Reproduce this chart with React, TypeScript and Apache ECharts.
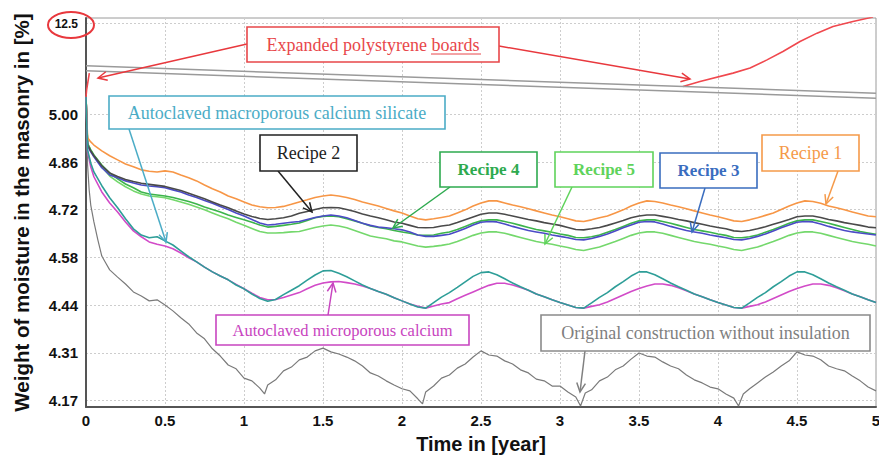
import React, { useEffect, useRef } from 'react';
import * as echarts from 'echarts';

// ---------- data (time in years, moisture weight in %) ----------
const TIME_YEARS = [0, 0.01, 0.03, 0.05, 0.1, 0.15, 0.2, 0.25, 0.3, 0.35, 0.4, 0.45, 0.5, 0.55, 0.6, 0.65, 0.7, 0.75, 0.8, 0.85, 0.9, 0.95,
  1, 1.05, 1.1, 1.15, 1.2, 1.25, 1.3, 1.35, 1.4, 1.45, 1.5, 1.55, 1.6, 1.65, 1.7, 1.75, 1.8, 1.85, 1.9, 1.95,
  2, 2.05, 2.1, 2.15, 2.2, 2.25, 2.3, 2.35, 2.4, 2.45, 2.5, 2.55, 2.6, 2.65, 2.7, 2.75, 2.8, 2.85, 2.9, 2.95,
  3, 3.05, 3.1, 3.15, 3.2, 3.25, 3.3, 3.35, 3.4, 3.45, 3.5, 3.55, 3.6, 3.65, 3.7, 3.75, 3.8, 3.85, 3.9, 3.95,
  4, 4.05, 4.1, 4.15, 4.2, 4.25, 4.3, 4.35, 4.4, 4.45, 4.5, 4.55, 4.6, 4.65, 4.7, 4.75, 4.8, 4.85, 4.9, 4.95, 5];

const RECIPE_1 = [6.45, 4.932, 4.920, 4.911,
  4.894, 4.880, 4.868, 4.856, 4.848, 4.839, 4.835, 4.833, 4.836, 4.833,
  4.824, 4.816, 4.807, 4.795, 4.784, 4.775, 4.763, 4.755,
  4.746, 4.737, 4.732, 4.729, 4.730, 4.733, 4.739, 4.746, 4.752, 4.759,
  4.763, 4.766, 4.763, 4.759, 4.753, 4.746, 4.740, 4.734, 4.727, 4.720,
  4.714, 4.705, 4.697, 4.694, 4.697, 4.701, 4.705, 4.714, 4.723, 4.734,
  4.743, 4.749, 4.749, 4.743, 4.737, 4.732, 4.726, 4.720, 4.714, 4.708,
  4.703, 4.697, 4.691, 4.689, 4.694, 4.700, 4.705, 4.714, 4.723, 4.734,
  4.743, 4.749, 4.747, 4.743, 4.737, 4.732, 4.726, 4.720, 4.714, 4.708,
  4.703, 4.697, 4.691, 4.689, 4.694, 4.700, 4.707, 4.714, 4.724, 4.734,
  4.743, 4.749, 4.747, 4.742, 4.734, 4.729, 4.723, 4.717, 4.711, 4.705,
  4.703];

const RECIPE_2 = [6.45, 4.911, 4.894, 4.880,
  4.851, 4.830, 4.820, 4.811, 4.805, 4.800, 4.797, 4.794, 4.791, 4.785,
  4.779, 4.771, 4.763, 4.755, 4.746, 4.737, 4.729, 4.720,
  4.711, 4.704, 4.698, 4.695, 4.697, 4.700, 4.705, 4.713, 4.718, 4.724,
  4.729, 4.730, 4.729, 4.724, 4.718, 4.711, 4.705, 4.700, 4.694, 4.688,
  4.684, 4.678, 4.672, 4.671, 4.672, 4.676, 4.679, 4.686, 4.694, 4.702,
  4.710, 4.714, 4.714, 4.710, 4.705, 4.700, 4.695, 4.691, 4.686, 4.682,
  4.678, 4.672, 4.666, 4.665, 4.668, 4.672, 4.678, 4.685, 4.692, 4.700,
  4.705, 4.708, 4.708, 4.704, 4.700, 4.695, 4.691, 4.686, 4.681, 4.676,
  4.672, 4.668, 4.662, 4.660, 4.663, 4.668, 4.674, 4.681, 4.688, 4.695,
  4.703, 4.705, 4.705, 4.701, 4.695, 4.691, 4.686, 4.682, 4.678, 4.673,
  4.671];

const RECIPE_3 = [6.45, 4.909, 4.891, 4.877,
  4.845, 4.824, 4.816, 4.807, 4.801, 4.795, 4.792, 4.790, 4.787, 4.781,
  4.775, 4.766, 4.759, 4.750, 4.742, 4.733, 4.724, 4.714,
  4.705, 4.695, 4.685, 4.679, 4.681, 4.684, 4.687, 4.689, 4.695, 4.701,
  4.705, 4.708, 4.705, 4.700, 4.692, 4.684, 4.678, 4.673, 4.671, 4.668,
  4.665, 4.659, 4.650, 4.646, 4.646, 4.649, 4.652, 4.660, 4.669, 4.679,
  4.687, 4.689, 4.688, 4.682, 4.675, 4.669, 4.663, 4.659, 4.655, 4.650,
  4.646, 4.642, 4.637, 4.636, 4.640, 4.646, 4.653, 4.662, 4.671, 4.679,
  4.687, 4.689, 4.688, 4.682, 4.675, 4.669, 4.663, 4.659, 4.655, 4.650,
  4.646, 4.642, 4.637, 4.636, 4.640, 4.646, 4.653, 4.662, 4.671, 4.679,
  4.687, 4.689, 4.688, 4.682, 4.675, 4.669, 4.663, 4.659, 4.656, 4.653,
  4.650];

const RECIPE_4 = [6.45, 4.914, 4.897, 4.882,
  4.853, 4.830, 4.813, 4.798, 4.787, 4.775, 4.769, 4.766, 4.763, 4.759,
  4.753, 4.747, 4.740, 4.731, 4.724, 4.717, 4.708, 4.701,
  4.694, 4.687, 4.679, 4.673, 4.675, 4.678, 4.681, 4.685, 4.692, 4.700,
  4.704, 4.705, 4.703, 4.697, 4.691, 4.684, 4.676, 4.672, 4.668, 4.663,
  4.659, 4.655, 4.650, 4.649, 4.650, 4.655, 4.659, 4.666, 4.675, 4.684,
  4.691, 4.694, 4.694, 4.689, 4.684, 4.678, 4.672, 4.666, 4.662, 4.658,
  4.653, 4.649, 4.643, 4.642, 4.645, 4.650, 4.658, 4.666, 4.675, 4.684,
  4.691, 4.694, 4.694, 4.689, 4.684, 4.678, 4.672, 4.666, 4.662, 4.658,
  4.653, 4.649, 4.643, 4.642, 4.645, 4.650, 4.658, 4.666, 4.675, 4.684,
  4.691, 4.694, 4.694, 4.689, 4.684, 4.678, 4.672, 4.666, 4.660, 4.656,
  4.652];

const RECIPE_5 = [6.45, 4.917, 4.897, 4.880,
  4.848, 4.821, 4.804, 4.790, 4.778, 4.769, 4.763, 4.761, 4.758, 4.752,
  4.746, 4.739, 4.731, 4.723, 4.714, 4.705, 4.697, 4.687,
  4.678, 4.669, 4.660, 4.656, 4.656, 4.657, 4.659, 4.660, 4.666, 4.672,
  4.676, 4.679, 4.676, 4.671, 4.663, 4.655, 4.647, 4.643, 4.639, 4.633,
  4.630, 4.624, 4.618, 4.615, 4.617, 4.620, 4.624, 4.631, 4.640, 4.649,
  4.656, 4.659, 4.659, 4.655, 4.649, 4.643, 4.637, 4.631, 4.627, 4.623,
  4.618, 4.614, 4.608, 4.605, 4.610, 4.615, 4.623, 4.631, 4.640, 4.649,
  4.656, 4.659, 4.659, 4.655, 4.649, 4.643, 4.637, 4.631, 4.627, 4.623,
  4.618, 4.614, 4.608, 4.605, 4.610, 4.615, 4.623, 4.631, 4.640, 4.649,
  4.656, 4.659, 4.659, 4.655, 4.649, 4.643, 4.637, 4.631, 4.627, 4.623,
  4.618];

const MACROPOROUS = [6.45, 4.897, 4.859, 4.833,
  4.793, 4.758, 4.729, 4.697, 4.668, 4.650, 4.642, 4.645, 4.633, 4.621,
  4.604, 4.587, 4.572, 4.557, 4.543, 4.531, 4.520, 4.505,
  4.494, 4.479, 4.466, 4.458, 4.463, 4.477, 4.490, 4.503, 4.519, 4.534,
  4.546, 4.547, 4.539, 4.529, 4.517, 4.505, 4.495, 4.486, 4.478, 4.468,
  4.459, 4.450, 4.441, 4.438, 4.454, 4.470, 4.483, 4.498, 4.514, 4.530,
  4.541, 4.543, 4.535, 4.523, 4.511, 4.500, 4.490, 4.479, 4.471, 4.462,
  4.454, 4.447, 4.440, 4.438, 4.453, 4.469, 4.483, 4.500, 4.515, 4.531,
  4.543, 4.543, 4.535, 4.523, 4.511, 4.500, 4.490, 4.479, 4.471, 4.462,
  4.454, 4.447, 4.440, 4.438, 4.453, 4.469, 4.483, 4.500, 4.515, 4.531,
  4.543, 4.543, 4.535, 4.523, 4.511, 4.500, 4.490, 4.479, 4.471, 4.462,
  4.454];

const MICROPOROUS = [6.45, 4.891, 4.848, 4.819,
  4.775, 4.743, 4.717, 4.688, 4.662, 4.645, 4.630, 4.623, 4.618, 4.610,
  4.598, 4.584, 4.572, 4.557, 4.543, 4.531, 4.520, 4.507,
  4.494, 4.481, 4.469, 4.462, 4.463, 4.469, 4.476, 4.483, 4.494, 4.504,
  4.511, 4.514, 4.515, 4.512, 4.508, 4.502, 4.495, 4.486, 4.478, 4.468,
  4.459, 4.450, 4.443, 4.438, 4.444, 4.450, 4.454, 4.465, 4.475, 4.485,
  4.495, 4.504, 4.510, 4.510, 4.505, 4.498, 4.490, 4.479, 4.471, 4.462,
  4.454, 4.447, 4.440, 4.438, 4.443, 4.448, 4.456, 4.466, 4.476, 4.486,
  4.495, 4.502, 4.508, 4.508, 4.504, 4.497, 4.488, 4.479, 4.471, 4.462,
  4.454, 4.447, 4.440, 4.438, 4.443, 4.448, 4.456, 4.466, 4.476, 4.486,
  4.495, 4.502, 4.508, 4.508, 4.504, 4.497, 4.488, 4.479, 4.471, 4.462,
  4.454];

const ORIGINAL_TIME = [0, 0.01, 0.02, 0.03, 0.05, 0.075, 0.1, 0.125, 0.15,
  0.2, 0.25, 0.3, 0.35, 0.4, 0.45, 0.5, 0.55, 0.6, 0.65, 0.7, 0.75, 0.8, 0.85, 0.9, 0.95, 1, 1.05, 1.1, 1.13,
  1.15, 1.2, 1.25, 1.3, 1.35, 1.4, 1.45, 1.5, 1.55, 1.6, 1.65, 1.7, 1.75, 1.8, 1.85, 1.9, 1.95, 2, 2.05, 2.1, 2.13,
  2.15, 2.2, 2.25, 2.3, 2.35, 2.4, 2.45, 2.5, 2.55, 2.6, 2.65, 2.7, 2.75, 2.8, 2.85, 2.9, 2.95, 3, 3.05, 3.1, 3.13, 3.16,
  3.2, 3.25, 3.3, 3.35, 3.4, 3.45, 3.5, 3.55, 3.6, 3.65, 3.7, 3.75, 3.8, 3.85, 3.9, 3.95, 4, 4.05, 4.1, 4.13, 4.16,
  4.2, 4.25, 4.3, 4.35, 4.4, 4.45, 4.5, 4.55, 4.6, 4.65, 4.7, 4.75, 4.8, 4.85, 4.9, 4.95, 5];

const ORIGINAL = [6.45, 4.853, 4.781, 4.737, 4.688, 4.636, 4.589, 4.569, 4.549,
  4.528, 4.508, 4.485, 4.473, 4.459, 4.462, 4.447, 4.430, 4.410, 4.392, 4.366, 4.349, 4.320, 4.299, 4.273, 4.262, 4.235, 4.227, 4.206, 4.189,
  4.215, 4.230, 4.256, 4.267, 4.288, 4.296, 4.314, 4.322, 4.311, 4.305, 4.296, 4.285, 4.270, 4.250, 4.241, 4.227, 4.215, 4.204, 4.198, 4.175, 4.160,
  4.195, 4.212, 4.235, 4.244, 4.264, 4.276, 4.296, 4.314, 4.302, 4.299, 4.285, 4.276, 4.259, 4.250, 4.232, 4.227, 4.212, 4.212, 4.195, 4.180, 4.154, 4.192,
  4.201, 4.227, 4.238, 4.259, 4.270, 4.290, 4.308, 4.299, 4.296, 4.282, 4.270, 4.262, 4.244, 4.230, 4.221, 4.209, 4.204, 4.189, 4.177, 4.154, 4.189,
  4.204, 4.221, 4.238, 4.253, 4.270, 4.285, 4.311, 4.302, 4.299, 4.288, 4.270, 4.262, 4.256, 4.241, 4.227, 4.209, 4.198];

// EPS: values above 5.00 sit on the broken part of the axis; hidden stretch = gap
const EPS_TIME = [0, 0.004, 0.021, 0.03, 3.778, 3.886, 4.095, 4.203, 4.31, 4.411, 4.519, 4.627, 4.728, 4.854, 4.981];
const EPS = [6.45, 7.03, 8.41, null, 7.30, 7.72, 8.41, 8.83, 9.51, 10.20, 11.03, 11.72, 12.27, 12.68, 13.05];

const Y_TICK_VALUES = [4.17, 4.30833, 4.44667, 4.585, 4.72333, 4.86167, 5.0, 12.5];
const Y_TICK_LABELS = ['4.17', '4.31', '4.44', '4.58', '4.72', '4.86', '5.00', '12.5'];

// ---------- broken y axis ----------
const AXIS_LOW = 4.17;
const AXIS_STEP = (5.0 - 4.17) / 6;
const BREAK_FROM = 5.0;
const BREAK_TO = 12.5;
const BREAK_UNITS = 1.9;
function toAxis(v: number | null): number | string {
  if (v === null || v === undefined) return '-';
  if (v <= BREAK_FROM) return (v - AXIS_LOW) / AXIS_STEP;
  return (BREAK_FROM - AXIS_LOW) / AXIS_STEP + ((v - BREAK_FROM) / (BREAK_TO - BREAK_FROM)) * BREAK_UNITS;
}
const Y_TICK_POS = Y_TICK_VALUES.map((v) => toAxis(v) as number);
// axis-break marks (two slanted parallel lines), in axis units
const BREAK_MARK_UPPER = [[0, 7.017], [5, 6.444]];
const BREAK_MARK_LOWER = [[0, 6.912], [5, 6.339]];

const SANS = '"Liberation Sans", Arial, sans-serif';
const SERIF = '"Liberation Serif", "Times New Roman", serif';

function arrow(x1: number, y1: number, x2: number, y2: number, color: string) {
  const ang = Math.atan2(y2 - y1, x2 - x1);
  const L = 10, a = 0.45;
  const p1 = [x2 - L * Math.cos(ang - a), y2 - L * Math.sin(ang - a)];
  const p2 = [x2 - L * Math.cos(ang + a), y2 - L * Math.sin(ang + a)];
  return [
    { type: 'line', z: 100, silent: true, shape: { x1, y1, x2, y2 }, style: { stroke: color, lineWidth: 1.5 } },
    { type: 'polyline', z: 100, silent: true, shape: { points: [p1, [x2, y2], p2] }, style: { stroke: color, lineWidth: 1.5, fill: 'none' } },
  ];
}

function box(x: number, y: number, w: number, h: number, color: string, text: string, size: number, weight = 'normal', textColor?: string) {
  return [
    { type: 'rect', z: 101, silent: true, shape: { x, y, width: w, height: h }, style: { fill: '#fff', stroke: color, lineWidth: 1.6 } },
    {
      type: 'text', z: 102, silent: true, x: x + w / 2, y: y + h / 2,
      style: { text, fill: textColor || color, fontFamily: SERIF, fontSize: size, fontWeight: weight, textAlign: 'center', textVerticalAlign: 'middle' },
    },
  ];
}

const makeSeries = (name: string, times: number[], vals: (number | null)[], color: string, width = 1.6) => ({
  type: 'line',
  name,
  data: times.map((t, i) => [t, toAxis(vals[i])]),
  showSymbol: false,
  symbol: 'none',
  connectNulls: false,
  silent: true,
  lineStyle: { color, width },
  itemStyle: { color },
  emphasis: { disabled: true },
});

export default function App() {
  const ref = useRef<HTMLDivElement>(null);
  useEffect(() => {
    if (!ref.current) return;
    const chart = echarts.init(ref.current, null, { renderer: 'svg' });
    const grid = { left: 86, right: 3, top: 18, bottom: 51 };
    const splitStyle = { color: '#cdcdcd', type: [2, 2], width: 1 };
    const option: any = {
      animation: false,
      backgroundColor: '#ffffff',
      grid: { ...grid, show: true, borderColor: '#9a9a9a', borderWidth: 1, containLabel: false, outerBoundsMode: 'none' },
      xAxis: {
        type: 'value', min: 0, max: 5, interval: 0.5,
        name: 'Time in [year]', nameLocation: 'middle', nameGap: 27, nameMoveOverlap: false,
        nameTextStyle: { fontFamily: SANS, fontWeight: 'bold', fontSize: 20, color: '#111' },
        axisLine: { onZero: false, lineStyle: { color: '#555', width: 2 } },
        axisTick: { show: false },
        axisLabel: { margin: 6, fontFamily: SANS, fontWeight: 'bold', fontSize: 15, color: '#111', showMinLabel: true, showMaxLabel: true },
        splitLine: { show: true, lineStyle: splitStyle },
      },
      yAxis: {
        type: 'value', min: -0.136, max: 8.02,
        name: 'Weight of moisture in the masonry in [%]', nameLocation: 'middle', nameRotate: 90, nameGap: 54, nameMoveOverlap: false,
        nameTextStyle: { fontFamily: SANS, fontWeight: 'bold', fontSize: 20.5, color: '#111' },
        axisLine: { onZero: false, lineStyle: { color: '#555', width: 2 } },
        axisTick: { show: false, customValues: Y_TICK_POS },
        axisLabel: {
          customValues: Y_TICK_POS, margin: 8, fontFamily: SANS, fontWeight: 'bold', fontSize: 15, color: '#111',
          formatter: (value: number) => {
            const i = Y_TICK_POS.findIndex((p) => Math.abs(p - value) < 1e-6);
            if (i < 0) return '';
            return i === Y_TICK_LABELS.length - 1 ? `{brk|${Y_TICK_LABELS[i]}}` : Y_TICK_LABELS[i];
          },
          rich: { brk: { fontFamily: SANS, fontWeight: 'bold', fontSize: 12, color: '#111' } },
        },
        splitLine: { show: true, lineStyle: splitStyle },
      },
      series: [
        makeSeries('Original construction without insulation', ORIGINAL_TIME, ORIGINAL, '#7a7a7a', 1.2),
        makeSeries('Recipe 5', TIME_YEARS, RECIPE_5, '#74d86c'),
        makeSeries('Recipe 4', TIME_YEARS, RECIPE_4, '#3cb44b'),
        makeSeries('Recipe 3', TIME_YEARS, RECIPE_3, '#4b4bc6'),
        makeSeries('Recipe 2', TIME_YEARS, RECIPE_2, '#4a4a4a'),
        makeSeries('Recipe 1', TIME_YEARS, RECIPE_1, '#f79646'),
        makeSeries('Autoclaved microporous calcium', TIME_YEARS, MICROPOROUS, '#d24bc8'),
        makeSeries('Autoclaved macroporous calcium silicate', TIME_YEARS, MACROPOROUS, '#2e9e98'),
        makeSeries('Expanded polystyrene boards', EPS_TIME, EPS, '#f0484e'),
        { type: 'line', data: BREAK_MARK_UPPER, symbol: 'none', silent: true, lineStyle: { color: '#9a9a9a', width: 1.5 }, z: 5 },
        { type: 'line', data: BREAK_MARK_LOWER, symbol: 'none', silent: true, lineStyle: { color: '#9a9a9a', width: 1.5 }, z: 5 },
      ],
      graphic: {
        elements: [
          { type: 'ellipse', z: 103, silent: true, shape: { cx: 71, cy: 25, rx: 23, ry: 13 }, style: { fill: 'none', stroke: '#e8383d', lineWidth: 2 } },
          ...arrow(247, 44, 98, 78, '#e8383d'),
          ...arrow(499, 46, 690, 79, '#e8383d'),
          ...box(247, 27, 252, 35, '#e8474a', 'Expanded polystyrene boards', 18),
          { type: 'line', z: 103, silent: true, shape: { x1: 431, y1: 54, x2: 481, y2: 54 }, style: { stroke: '#e8474a', lineWidth: 1 } },
          ...arrow(129, 129, 166, 242, '#4bacc6'),
          ...box(109, 96, 336, 33, '#4bacc6', 'Autoclaved macroporous calcium silicate', 18),
          ...arrow(278, 171, 312, 212, '#222'),
          ...box(260, 135, 97, 36, '#222', 'Recipe 2', 18),
          ...arrow(450, 187, 393, 228, '#2eaa4f'),
          ...box(440, 152, 97, 35, '#2eaa4f', 'Recipe 4', 17, 'bold'),
          ...arrow(572, 187, 545, 244, '#5fd35b'),
          ...box(555, 152, 98, 35, '#5fd35b', 'Recipe 5', 17, 'bold'),
          ...arrow(705, 188, 692, 232, '#3a6dbf'),
          ...box(660, 153, 97, 35, '#3a6dbf', 'Recipe 3', 17, 'bold'),
          ...arrow(838, 171, 826, 204, '#f59a4a'),
          ...box(762, 135, 97, 36, '#f59a4a', 'Recipe 1', 18),
          ...arrow(328, 315, 333, 283, '#c845c0'),
          ...box(216, 315, 253, 30, '#c845c0', 'Autoclaved microporous calcium', 16.5),
          ...arrow(585, 351, 580, 392, '#808080'),
          ...box(541, 315, 329, 36, '#8a8a8a', 'Original construction without insulation', 18, 'normal', '#7f7f7f'),
        ],
      },
    };
    chart.setOption(option);
    return () => chart.dispose();
  }, []);
  return <div ref={ref} style={{ position: 'absolute', left: 0, top: 0, width: 879, height: 458, background: '#fff' }} />;
}
